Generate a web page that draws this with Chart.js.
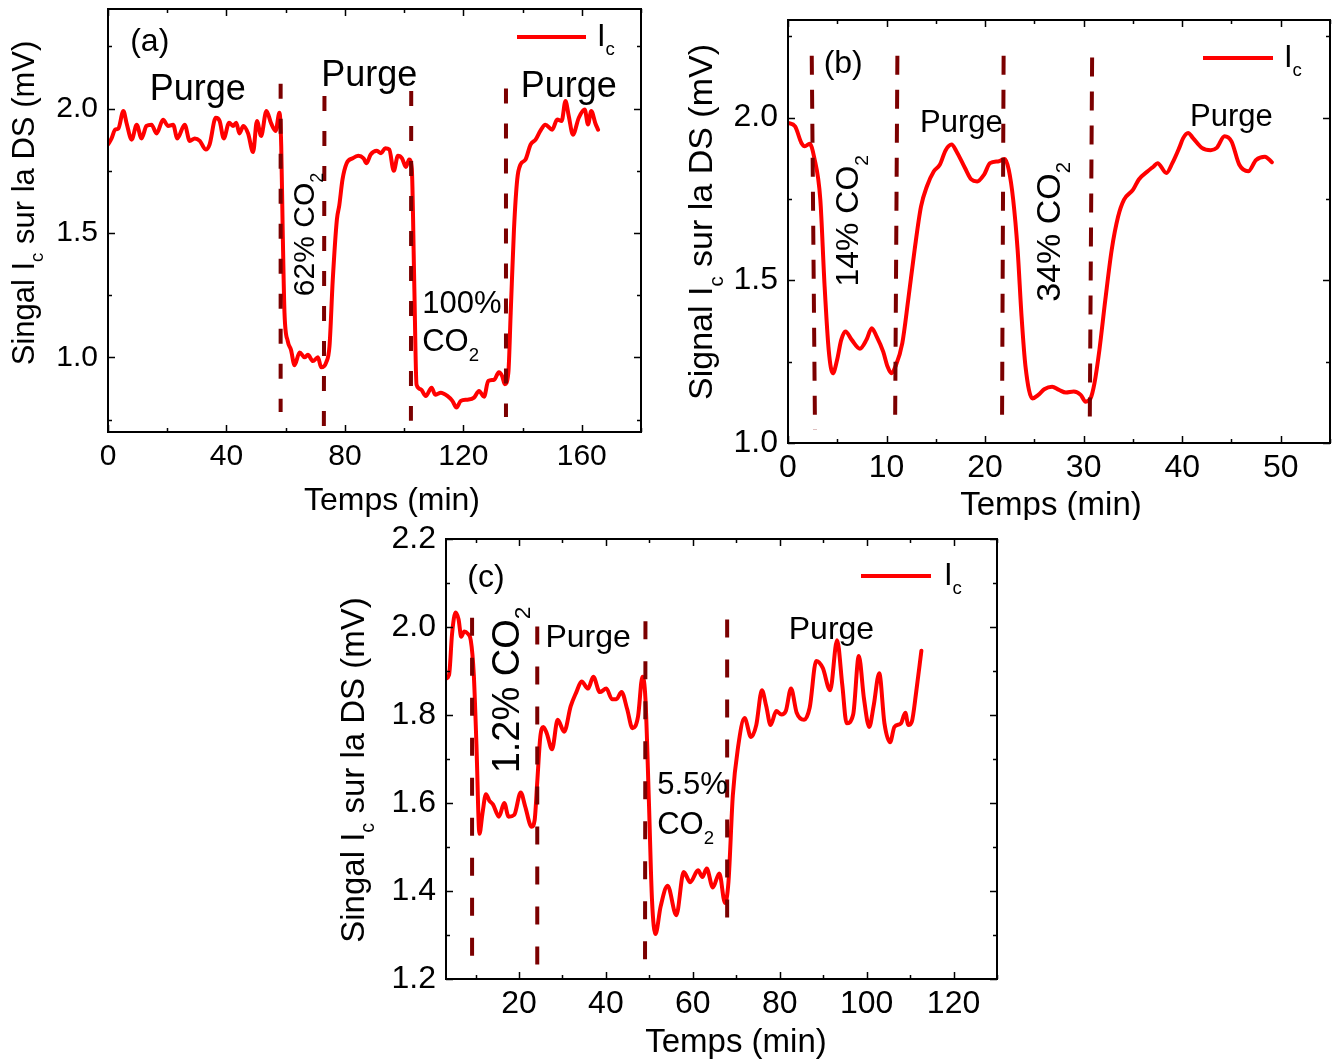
<!DOCTYPE html>
<html>
<head>
<meta charset="utf-8">
<script src="https://cdn.jsdelivr.net/npm/chart.js@4.4.1/dist/chart.umd.min.js"></script>
<style>
  body { margin: 0; background: #fff; width: 1334px; height: 1061px; position: relative; overflow: hidden; }
  canvas { position: absolute; }
</style>
</head>
<body>
<canvas id="ca" width="660" height="520" style="left:0;top:0"></canvas>
<canvas id="cb" width="664" height="520" style="left:670px;top:0"></canvas>
<canvas id="cc" width="680" height="541" style="left:330px;top:520px"></canvas>
<script>
// ---- panel (a) ----
const timeA = [0, 1.2, 2.4, 3.5, 5.2, 6.3, 8.0, 9.7, 11.3, 13.0, 14.7, 16.4, 18.6, 20.3, 22.0, 23.4, 25.9, 27.6, 29.3, 31.0,
  33.0, 34.3, 36.4, 37.7, 39.1, 40.9, 42.2, 43.3, 44.4, 45.7, 47.3, 49.0, 50.3, 51.7, 53.5, 55.1, 56.6, 57.9, 58.5, 59.0,
  59.6, 60.7, 61.8, 63.0, 64.7, 66.4, 67.5, 69.2, 70.9, 72.0, 73.7, 74.8, 75.9, 77.3, 78.1, 79.2, 80.6, 82.6, 84.5, 86.3,
  87.3, 88.7, 90.8, 92.2, 93.6, 95.0, 96.5, 97.9, 99.3, 100.6, 101.7, 102.6, 103.4, 104.2, 105.6, 107.3, 109.3, 110.5, 112.4, 114.6,
  116.3, 117.7, 119.1, 121.4, 123.6, 125.3, 127.0, 128.4, 130.4, 132.0, 133.1, 134.0, 135.2, 136.0, 137.1, 138.2, 139.3, 141.0, 142.7, 144.4,
  146.0, 147.7, 150.0, 151.7, 153.2, 154.5, 155.6, 157.0, 159.0, 161.0, 162.1, 163.2, 164.6, 165.5];
const sigA = [1.855, 1.88, 1.915, 1.92, 1.99, 1.94, 1.875, 1.935, 1.88, 1.93, 1.935, 1.90, 1.955, 1.93, 1.935, 1.88, 1.935, 1.87, 1.88, 1.87,
  1.835, 1.855, 1.963, 1.95, 1.88, 1.943, 1.93, 1.943, 1.90, 1.93, 1.90, 1.825, 1.95, 1.89, 1.99, 1.94, 1.91, 1.983, 1.85, 1.51,
  1.18, 1.065, 1.03, 0.968, 1.02, 1.00, 1.01, 0.985, 1.00, 0.96, 0.98, 1.045, 1.31, 1.554, 1.61, 1.715, 1.78, 1.80, 1.81, 1.80,
  1.78, 1.815, 1.83, 1.82, 1.84, 1.835, 1.75, 1.81, 1.80, 1.765, 1.795, 1.758, 1.313, 0.89, 0.872, 0.845, 0.878, 0.85, 0.858, 0.845,
  0.825, 0.798, 0.825, 0.83, 0.838, 0.865, 0.842, 0.905, 0.91, 0.94, 0.925, 0.892, 0.938, 1.18, 1.514, 1.715, 1.775, 1.795, 1.855, 1.875,
  1.91, 1.935, 1.915, 1.956, 1.95, 2.03, 1.97, 1.895, 1.963, 1.996, 1.936, 1.99, 1.94, 1.915];
const cutTopXA = [58.3, 73.1, 102.4, 134.4];
const cutBotXA = [58.3, 72.9, 102.3, 134.4];
const cutTopA = [2.10, 2.05, 2.07, 2.08];
const cutBotA = [0.78, 0.72, 0.745, 0.76];
const xMajorA = [0, 40, 80, 120, 160];
const xMinorA = [20, 60, 100, 140, 180];
const yMajorA = [1.0, 1.5, 2.0];
const yMinorA = [0.75, 1.25, 1.75, 2.25];

// ---- panel (b) ----
const timeB = [0, 0.72, 1.36, 1.7, 2.2, 2.64, 3.28, 3.7, 4.13, 4.55, 4.98, 5.4, 5.83, 6.47, 7.3, 7.96, 8.5, 9.0, 9.66, 10.1,
  10.5, 10.9, 11.6, 12.2, 12.85, 13.5, 14.1, 14.8, 15.4, 16.0, 16.6, 17.1, 17.96, 18.6, 19.2, 19.9, 20.5, 21.4, 22.0, 22.4,
  22.85, 23.3, 23.7, 24.1, 24.8, 25.4, 26.0, 26.8, 27.5, 28.2, 29.0, 29.7, 30.2, 30.7, 31.1, 31.6, 32.2, 32.85, 33.5, 34.1,
  35.0, 35.6, 36.5, 37.1, 37.5, 38.4, 39.0, 39.7, 40.1, 40.6, 41.1, 42.0, 42.9, 43.5, 44.3, 45.0, 45.8, 46.7, 47.5, 48.4, 49.1];
const sigB = [1.984, 1.973, 1.922, 1.912, 1.92, 1.88, 1.748, 1.49, 1.286, 1.214, 1.255, 1.317, 1.343, 1.317, 1.29, 1.317, 1.353, 1.327, 1.281, 1.235,
  1.214, 1.235, 1.307, 1.44, 1.594, 1.727, 1.789, 1.835, 1.855, 1.90, 1.917, 1.896, 1.845, 1.81, 1.804, 1.825, 1.86, 1.866, 1.873, 1.84,
  1.748, 1.594, 1.389, 1.235, 1.137, 1.148, 1.165, 1.173, 1.163, 1.155, 1.158, 1.148, 1.127, 1.137, 1.184, 1.286, 1.44, 1.594, 1.696, 1.748,
  1.778, 1.81, 1.835, 1.85, 1.86, 1.83, 1.86, 1.907, 1.937, 1.953, 1.937, 1.907, 1.90, 1.907, 1.943, 1.927, 1.855, 1.835, 1.87, 1.88, 1.863];
const cutTopXB = [2.41, 11.1, 21.88, 30.86];
const cutBotXB = [2.74, 10.87, 21.72, 30.62];
const cutTopB = [2.19, 2.19, 2.19, 2.185];
const cutBotB = [1.04, 1.06, 1.06, 1.05];
const xMajorB = [0, 10, 20, 30, 40, 50];
const xMinorB = [5, 15, 25, 35, 45, 55];
const yMajorB = [1.0, 1.5, 2.0];
const yMinorB = [1.25, 1.75, 2.25];

// ---- panel (c) ----
const timeC = [3.2, 3.9, 4.6, 5.4, 6.1, 6.7, 7.4, 8.2, 8.9, 9.6, 10.2, 10.9, 11.6, 12.4, 13.2, 14.0, 15.4, 16.6, 17.6, 18.9,
  20.4, 21.4, 22.9, 23.6, 24.2, 24.9, 25.6, 26.4, 27.6, 28.9, 30.4, 31.9, 33.2, 34.4, 35.9, 37.1, 38.6, 40.1, 41.4, 42.4,
  43.6, 44.9, 46.1, 47.4, 48.4, 49.1, 49.9, 50.6, 51.4, 52.6, 54.2, 56.2, 57.9, 59.4, 61.2, 62.2, 63.2, 64.6, 66.1, 67.4,
  68.2, 69.2, 70.4, 71.9, 73.4, 74.6, 75.9, 76.9, 77.9, 79.2, 80.4, 81.4, 82.6, 83.9, 85.6, 86.9, 88.4, 89.9, 91.6, 93.2,
  94.4, 95.4, 96.9, 98.2, 99.4, 100.6, 101.6, 102.9, 104.1, 105.4, 106.4, 107.9, 108.9, 109.6, 110.4, 111.4, 112.6];
const sigC = [1.883, 1.891, 1.985, 2.033, 2.017, 1.978, 1.99, 1.985, 1.97, 1.891, 1.734, 1.53, 1.577, 1.62, 1.605, 1.597, 1.569, 1.60, 1.569, 1.573,
  1.624, 1.593, 1.546, 1.561, 1.648, 1.75, 1.773, 1.758, 1.722, 1.789, 1.762, 1.82, 1.852, 1.876, 1.86, 1.887, 1.852, 1.86, 1.836, 1.836,
  1.852, 1.813, 1.77, 1.797, 1.887, 1.836, 1.601, 1.381, 1.302, 1.365, 1.412, 1.345, 1.443, 1.42, 1.447, 1.432, 1.451, 1.408, 1.44, 1.373,
  1.42, 1.616, 1.726, 1.793, 1.75, 1.777, 1.856, 1.82, 1.777, 1.809, 1.801, 1.809, 1.86, 1.805, 1.789, 1.817, 1.923, 1.907, 1.856, 1.97,
  1.868, 1.781, 1.801, 1.934, 1.836, 1.773, 1.82, 1.895, 1.781, 1.738, 1.773, 1.781, 1.805, 1.777, 1.785, 1.852, 1.946];
const cutTopXC = [9.2, 24.2, 49.1, 67.9];
const cutBotXC = [9.2, 24.2, 49.0, 67.9];
const cutTopC = [2.021, 2.001, 2.013, 2.017];
const cutBotC = [1.235, 1.224, 1.231, 1.326];
const xMajorC = [20, 40, 60, 80, 100, 120];
const xMinorC = [10, 30, 50, 70, 90, 110, 130];
const yMajorC = [1.2, 1.4, 1.6, 1.8, 2.0, 2.2];
const yMinorC = [1.3, 1.5, 1.7, 1.9, 2.1];

const FONT = '"Liberation Sans", Arial, Helvetica, sans-serif';
const RED = '#ff0000';
const DARKRED = '#7b0000';

// text like "CO_{2}" -> parts with subscript flag
function parseRich(str) {
  const parts = [];
  const re = /_\{([^}]*)\}/g;
  let last = 0, m;
  while ((m = re.exec(str)) !== null) {
    if (m.index > last) parts.push({ t: str.slice(last, m.index), sub: false });
    parts.push({ t: m[1], sub: true });
    last = re.lastIndex;
  }
  if (last < str.length) parts.push({ t: str.slice(last), sub: false });
  return parts;
}

function drawRich(ctx, str, x, y, size, align, rot) {
  const parts = parseRich(str);
  ctx.save();
  ctx.translate(x, y);
  if (rot) ctx.rotate(rot);
  let w = 0;
  for (const p of parts) {
    ctx.font = (p.sub ? size * 0.6 : size) + 'px ' + FONT;
    w += ctx.measureText(p.t).width;
  }
  let cx = align === 'center' ? -w / 2 : (align === 'right' ? -w : 0);
  ctx.textAlign = 'left';
  ctx.textBaseline = 'middle';
  ctx.fillStyle = '#000';
  for (const p of parts) {
    ctx.font = (p.sub ? size * 0.6 : size) + 'px ' + FONT;
    ctx.fillText(p.t, cx, p.sub ? size * 0.42 : 0);
    cx += ctx.measureText(p.t).width;
  }
  ctx.restore();
}

function decorPlugin(cfg) {
  return {
    id: 'decor' + cfg.id,
    afterDraw(chart) {
      const ctx = chart.ctx;
      const a = chart.chartArea;
      const xs = chart.scales.x, ys = chart.scales.y;
      ctx.save();
      ctx.strokeStyle = '#000';
      ctx.lineWidth = 2;
      ctx.strokeRect(a.left, a.top, a.right - a.left, a.bottom - a.top);
      ctx.lineWidth = 1.5;
      const tick = (vals, len) => {
        vals.forEach(v => {
          const px = Math.round(xs.getPixelForValue(v)) + 0.5;
          if (px < a.left - 1 || px > a.right + 1) return;
          ctx.beginPath();
          ctx.moveTo(px, a.bottom); ctx.lineTo(px, a.bottom - len);
          ctx.moveTo(px, a.top); ctx.lineTo(px, a.top + len);
          ctx.stroke();
        });
      };
      const ytick = (vals, len) => {
        vals.forEach(v => {
          const py = Math.round(ys.getPixelForValue(v)) + 0.5;
          if (py < a.top - 1 || py > a.bottom + 1) return;
          ctx.beginPath();
          ctx.moveTo(a.left, py); ctx.lineTo(a.left + len, py);
          ctx.moveTo(a.right, py); ctx.lineTo(a.right - len, py);
          ctx.stroke();
        });
      };
      tick(cfg.xMajor, 7); tick(cfg.xMinor, 4);
      ytick(cfg.yMajor, 7); ytick(cfg.yMinor, 4);

      // tick labels
      ctx.fillStyle = '#000';
      ctx.font = cfg.tickSize + 'px ' + FONT;
      ctx.textAlign = 'center';
      ctx.textBaseline = 'middle';
      cfg.xMajor.forEach(v => ctx.fillText(String(v), xs.getPixelForValue(v), a.bottom + 25));
      ctx.textAlign = 'right';
      cfg.yMajor.forEach(v => ctx.fillText(v.toFixed(1), a.left - 10, ys.getPixelForValue(v)));

      // axis titles
      drawRich(ctx, cfg.xTitle, cfg.xTitlePos[0], cfg.xTitlePos[1], cfg.xTitleSize, 'center', 0);
      drawRich(ctx, cfg.yTitle, cfg.yTitlePos[0], cfg.yTitlePos[1], cfg.yTitleSize, 'center', -Math.PI / 2);

      // annotations in data coordinates
      cfg.notes.forEach(n => {
        drawRich(ctx, n.text, xs.getPixelForValue(n.x), ys.getPixelForValue(n.y), n.size, n.align || 'center', n.rot ? -Math.PI / 2 : 0);
      });

      // legend
      const L = cfg.legend;
      ctx.strokeStyle = RED;
      ctx.lineWidth = 4;
      ctx.beginPath();
      ctx.moveTo(L.x0, L.y); ctx.lineTo(L.x1, L.y);
      ctx.stroke();
      drawRich(ctx, 'I_{c}', L.tx, L.y, 31, 'left', 0);
      ctx.restore();
    }
  };
}

function makePanel(cfg) {
  const datasets = [];
  cfg.cutTopX.forEach((cx, i) => {
    datasets.push({
      data: [{ x: cx, y: cfg.cutTop[i] }, { x: cfg.cutBotX[i], y: cfg.cutBot[i] }],
      borderColor: DARKRED,
      borderWidth: 4,
      borderDash: cfg.dash,
      pointRadius: 0,
      order: 0
    });
  });
  datasets.push({
    data: cfg.time.map((t, i) => ({ x: t, y: cfg.sig[i] })),
    borderColor: RED,
    borderWidth: 4,
    cubicInterpolationMode: 'monotone',
    borderJoinStyle: 'round',
    borderCapStyle: 'round',
    pointRadius: 0,
    order: 1
  });
  new Chart(document.getElementById(cfg.id), {
    type: 'line',
    data: { datasets: datasets },
    options: {
      responsive: false,
      animation: false,
      devicePixelRatio: 1,
      layout: { padding: cfg.pad },
      plugins: { legend: { display: false }, tooltip: { enabled: false } },
      scales: {
        x: { type: 'linear', display: false, min: cfg.xRange[0], max: cfg.xRange[1] },
        y: { type: 'linear', display: false, min: cfg.yRange[0], max: cfg.yRange[1] }
      }
    },
    plugins: [decorPlugin(cfg)]
  });
}

makePanel({
  id: 'ca', time: timeA, sig: sigA,
  cutTopX: cutTopXA, cutBotX: cutBotXA, cutTop: cutTopA, cutBot: cutBotA, dash: [15, 20],
  xRange: [0, 180], yRange: [0.7, 2.4],
  pad: { left: 108, top: 9, right: 19, bottom: 88 },
  xMajor: xMajorA, xMinor: xMinorA, yMajor: yMajorA, yMinor: yMinorA,
  tickSize: 30, xTitleSize: 32, yTitleSize: 31,
  xTitle: 'Temps (min)', xTitlePos: [392, 501],
  yTitle: 'Singal I_{c} sur la DS (mV)', yTitlePos: [25, 203],
  legend: { x0: 517, x1: 586, y: 37, tx: 597 },
  notes: [
    { text: '(a)', x: 14.1, y: 2.265, size: 32 },
    { text: 'Purge', x: 30.3, y: 2.076, size: 36 },
    { text: 'Purge', x: 88.2, y: 2.13, size: 36 },
    { text: 'Purge', x: 155.6, y: 2.088, size: 36 },
    { text: '62% CO_{2}', x: 66.7, y: 1.494, size: 30, rot: true },
    { text: '100%', x: 106.1, y: 1.213, size: 31, align: 'left' },
    { text: 'CO_{2}', x: 106.1, y: 1.06, size: 31, align: 'left' }
  ]
});

makePanel({
  id: 'cb', time: timeB, sig: sigB,
  cutTopX: cutTopXB, cutBotX: cutBotXB, cutTop: cutTopB, cutBot: cutBotB, dash: [19, 15],
  xRange: [0, 55], yRange: [1.0, 2.3],
  pad: { left: 118, top: 20, right: 4, bottom: 77 },
  xMajor: xMajorB, xMinor: xMinorB, yMajor: yMajorB, yMinor: yMinorB,
  tickSize: 32, xTitleSize: 33, yTitleSize: 34,
  xTitle: 'Temps (min)', xTitlePos: [381, 506],
  yTitle: 'Signal I_{c} sur la DS (mV)', yTitlePos: [33, 222],
  legend: { x0: 533, x1: 603, y: 58, tx: 614 },
  notes: [
    { text: '(b)', x: 5.6, y: 2.163, size: 32 },
    { text: 'Purge', x: 17.6, y: 1.982, size: 31 },
    { text: 'Purge', x: 45.0, y: 2.0, size: 31 },
    { text: '14% CO_{2}', x: 6.2, y: 1.683, size: 32, rot: true },
    { text: '34% CO_{2}', x: 26.6, y: 1.649, size: 34, rot: true }
  ]
});

makePanel({
  id: 'cc', time: timeC, sig: sigC,
  cutTopX: cutTopXC, cutBotX: cutBotXC, cutTop: cutTopC, cutBot: cutBotC, dash: [18, 22],
  xRange: [3.2, 130], yRange: [1.2, 2.2],
  pad: { left: 116, top: 19, right: 13, bottom: 82 },
  xMajor: xMajorC, xMinor: xMinorC, yMajor: yMajorC, yMinor: yMinorC,
  tickSize: 32, xTitleSize: 33, yTitleSize: 33,
  xTitle: 'Temps (min)', xTitlePos: [406, 523],
  yTitle: 'Singal I_{c} sur la DS (mV)', yTitlePos: [25, 250],
  legend: { x0: 531, x1: 601, y: 56, tx: 614 },
  notes: [
    { text: '(c)', x: 12.4, y: 2.111, size: 32 },
    { text: '1.2% CO_{2}', x: 17.5, y: 1.857, size: 38, rot: true },
    { text: 'Purge', x: 35.9, y: 1.975, size: 32 },
    { text: 'Purge', x: 91.9, y: 1.993, size: 32 },
    { text: '5.5%', x: 51.8, y: 1.639, size: 31, align: 'left' },
    { text: 'CO_{2}', x: 51.8, y: 1.548, size: 31, align: 'left' }
  ]
});
</script>
</body>
</html>
